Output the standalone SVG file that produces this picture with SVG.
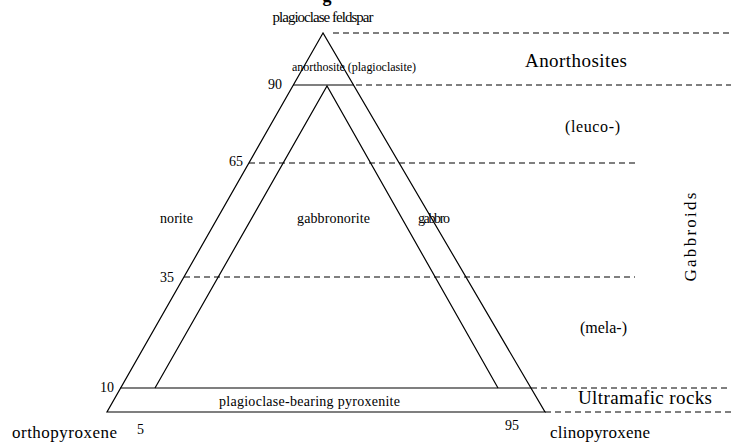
<svg xmlns="http://www.w3.org/2000/svg" width="731" height="443" viewBox="0 0 731 443">
<style>
.s{fill:none;stroke:#000;stroke-width:1.2}
.d{fill:none;stroke:#000;stroke-width:1.2;stroke-dasharray:6 4}
text{font-family:"Liberation Serif","Times New Roman",serif;fill:#000}
.sm{font-size:14px}
.num{font-size:14px}
.md{font-size:16px}
.lg{font-size:19px}
</style>
<rect width="731" height="443" fill="#fff"/>
<text x="327" y="2" font-size="18" font-weight="bold" text-anchor="middle">g</text>
<g id="connectors">
<line class="d" x1="333" y1="33" x2="731" y2="33"/>
<line class="d" x1="356" y1="85" x2="731" y2="85"/>
<line class="d" x1="249" y1="163" x2="635" y2="163"/>
<line class="d" x1="184" y1="277" x2="635" y2="277"/>
<line class="d" x1="531" y1="388" x2="731" y2="388"/>
<line class="d" x1="545" y1="412" x2="731" y2="412"/>
</g>
<g id="outer-triangle">
<polygon class="s" points="323,33 107,412 545,412"/>
<line class="s" x1="293" y1="85" x2="354" y2="85"/>
<line class="s" x1="120" y1="388" x2="531" y2="388"/>
</g>
<g id="inner-triangle">
<polyline class="s" points="155,388 327,86 498,388"/>
</g>
<g id="plagioclase-feldspar"><text font-size="15" x="323" y="22" text-anchor="middle" textLength="101">plagioclase feldspar</text></g>
<g id="anorthosite"><text font-size="12" x="354" y="71" text-anchor="middle" textLength="124">anorthosite (plagioclasite)</text></g>
<g id="norite"><text class="sm" x="160" y="223" textLength="33">norite</text></g>
<g id="gabbronorite"><text class="sm" x="297" y="223" textLength="73">gabbronorite</text></g>
<g id="gabbro"><text class="sm" x="418" y="223" textLength="32">gabbro</text></g>
<g id="pyroxenite"><text class="sm" x="219" y="406" textLength="181">plagioclase-bearing pyroxenite</text></g>
<g id="orthopyroxene"><text font-size="17" x="12" y="438" textLength="105">orthopyroxene</text></g>
<g id="clinopyroxene"><text font-size="17" x="550" y="438" textLength="100">clinopyroxene</text></g>
<g id="ticks">
<text class="num" x="268" y="89">90</text>
<text class="num" x="229" y="166">65</text>
<text class="num" x="160" y="282">35</text>
<text class="num" x="100" y="392">10</text>
<text class="num" x="137" y="434">5</text>
<text class="num" x="505" y="430">95</text>
</g>
<g id="anorthosites"><text class="lg" x="525" y="67" textLength="102">Anorthosites</text></g>
<g id="leuco"><text class="md" x="565" y="132" textLength="55">(leuco-)</text></g>
<g id="mela"><text class="md" x="580" y="333" textLength="47">(mela-)</text></g>
<g id="ultramafic"><text class="lg" x="578" y="404" textLength="134">Ultramafic rocks</text></g>
<g id="gabbroids"><text font-size="17" transform="translate(696,237) rotate(-90)" text-anchor="middle" textLength="89">Gabbroids</text></g>
</svg>
